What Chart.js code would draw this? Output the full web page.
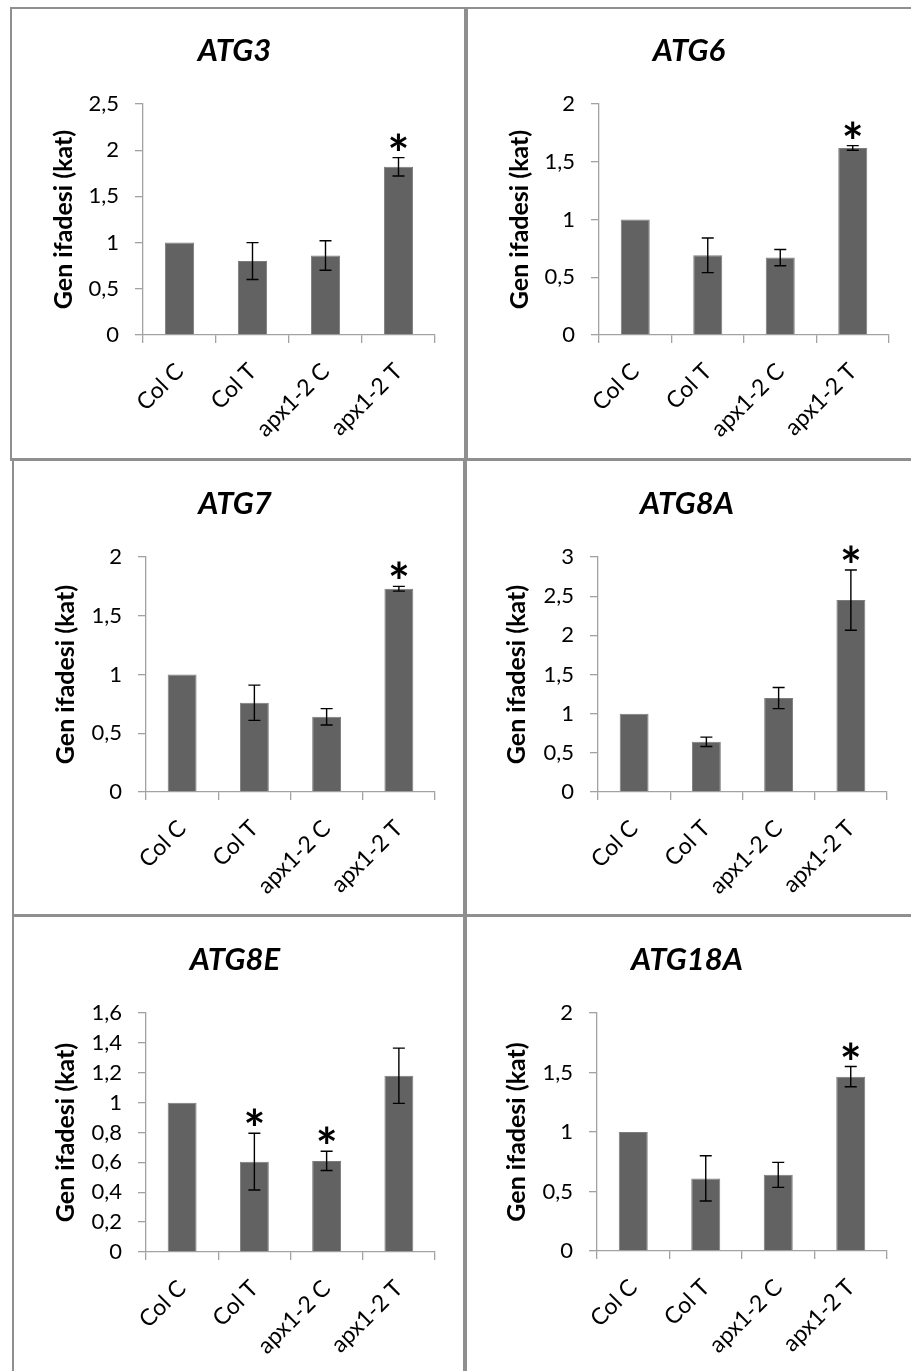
<!DOCTYPE html>
<html>
<head>
<meta charset="utf-8">
<script src="https://cdn.jsdelivr.net/npm/chart.js@4.4.1/dist/chart.umd.min.js"></script>
<style>
  html, body { margin: 0; padding: 0; background: #fff; }
  body { position: relative; width: 911px; height: 1371px; overflow: hidden; }
  .panel { position: absolute; box-sizing: border-box; border: 2px solid #8f8f8f; }
  .plot { position: absolute; }
</style>
</head>
<body>
<script>
// Groups on the x axis (same for every gene)
const categories = ['Col C', 'Col T', 'apx1-2 C', 'apx1-2 T'];
const yAxisTitle = 'Gen ifadesi (kat)';

// Relative expression (fold), standard errors and significance marks per gene
const atg3Values = [1.00, 0.80, 0.86, 1.82];
const atg3Errors = [0, 0.20, 0.16, 0.10];
const atg3Stars = [false, false, false, true];
const atg3Ticks = ['0', '0,5', '1', '1,5', '2', '2,5'];

const atg6Values = [1.00, 0.69, 0.67, 1.62];
const atg6Errors = [0, 0.15, 0.07, 0.02];
const atg6Stars = [false, false, false, true];
const atg6Ticks = ['0', '0,5', '1', '1,5', '2'];

const atg7Values = [1.00, 0.76, 0.64, 1.73];
const atg7Errors = [0, 0.15, 0.07, 0.02];
const atg7Stars = [false, false, false, true];
const atg7Ticks = ['0', '0,5', '1', '1,5', '2'];

const atg8aValues = [1.00, 0.64, 1.20, 2.45];
const atg8aErrors = [0, 0.06, 0.135, 0.385];
const atg8aStars = [false, false, false, true];
const atg8aTicks = ['0', '0,5', '1', '1,5', '2', '2,5', '3'];

const atg8eValues = [1.00, 0.605, 0.61, 1.18];
const atg8eErrors = [0, 0.19, 0.064, 0.185];
const atg8eStars = [false, true, true, false];
const atg8eTicks = ['0', '0,2', '0,4', '0,6', '0,8', '1', '1,2', '1,4', '1,6'];

const atg18aValues = [1.00, 0.61, 0.64, 1.465];
const atg18aErrors = [0, 0.19, 0.105, 0.085];
const atg18aStars = [false, false, false, true];
const atg18aTicks = ['0', '0,5', '1', '1,5', '2'];

const genes = [
  { name: 'ATG3',   values: atg3Values,   errors: atg3Errors,   stars: atg3Stars,   ticks: atg3Ticks },
  { name: 'ATG6',   values: atg6Values,   errors: atg6Errors,   stars: atg6Stars,   ticks: atg6Ticks },
  { name: 'ATG7',   values: atg7Values,   errors: atg7Errors,   stars: atg7Stars,   ticks: atg7Ticks },
  { name: 'ATG8A',  values: atg8aValues,  errors: atg8aErrors,  stars: atg8aStars,  ticks: atg8aTicks },
  { name: 'ATG8E',  values: atg8eValues,  errors: atg8eErrors,  stars: atg8eStars,  ticks: atg8eTicks },
  { name: 'ATG18A', values: atg18aValues, errors: atg18aErrors, stars: atg18aStars, ticks: atg18aTicks },
];

// Page layout: framed box, canvas rectangle and plot rectangle for each panel [left, top, right, bottom]
const layout = [
  { box: [11, 8, 465, 460],    canvas: [34, 10, 441, 457],    area: [143, 104, 435, 335],   yTitleX: 63.5 },
  { box: [467, 8, 920, 460],   canvas: [489, 10, 895, 457],   area: [599, 104, 889, 335],   yTitleX: 519.5 },
  { box: [13, 459, 466, 916],  canvas: [35, 461, 441, 913],   area: [146, 557, 435, 792],   yTitleX: 66 },
  { box: [464, 459, 920, 916], canvas: [487, 461, 893, 913],  area: [598, 557, 887, 792],   yTitleX: 517 },
  { box: [13, 915, 466, 1380], canvas: [35, 917, 441, 1371],  area: [146, 1013, 435, 1252], yTitleX: 66 },
  { box: [464, 915, 920, 1380],canvas: [487, 917, 893, 1371], area: [597, 1013, 887, 1251], yTitleX: 517 },
];

const FONT = 'Lato';
const AXIS_COLOR = '#a2a2a2';
const BAR_COLOR = '#626262';
const TICK_SIZE = 22;
const XLABEL_SIZE = 23;
const YTITLE_SIZE = 25;
const TITLE_SIZE = 31;
const STAR_WIDTH = 17;

// Draws the standard-error whiskers and the significance asterisks on top of the bars
const errorBarPlugin = {
  id: 'errorBars',
  afterDatasetsDraw(chart) {
    const ctx = chart.ctx;
    const yScale = chart.scales.y;
    const ds = chart.data.datasets[0];
    const meta = chart.getDatasetMeta(0);
    ctx.save();
    meta.data.forEach((bar, i) => {
      const v = ds.data[i];
      const e = ds.errors[i];
      let topPx = yScale.getPixelForValue(v);
      if (e > 0) {
        const hi = yScale.getPixelForValue(v + e);
        const lo = yScale.getPixelForValue(v - e);
        const cap = 6;
        ctx.strokeStyle = '#000';
        ctx.lineWidth = 1.4;
        ctx.beginPath();
        ctx.moveTo(bar.x, hi); ctx.lineTo(bar.x, lo);
        ctx.moveTo(bar.x - cap, hi); ctx.lineTo(bar.x + cap, hi);
        ctx.moveTo(bar.x - cap, lo); ctx.lineTo(bar.x + cap, lo);
        ctx.stroke();
        topPx = hi;
      }
      if (ds.stars[i]) {
        // size the asterisk by its drawn width
        ctx.font = 'bold 100px ' + FONT;
        const m100 = ctx.measureText('*');
        const inkW = m100.actualBoundingBoxLeft + m100.actualBoundingBoxRight;
        const size = 100 * STAR_WIDTH / inkW;
        ctx.font = 'bold ' + size.toFixed(1) + 'px ' + FONT;
        ctx.fillStyle = '#000';
        ctx.textAlign = 'center';
        ctx.textBaseline = 'alphabetic';
        const m = ctx.measureText('*');
        const baseline = topPx - 7 - m.actualBoundingBoxDescent;
        ctx.fillText('*', bar.x, baseline);
      }
    });
    ctx.restore();
  }
};

function buildPanel(gene, lay) {
  const [bx0, by0, bx1, by1] = lay.box;
  const frame = document.createElement('div');
  frame.className = 'panel';
  Object.assign(frame.style, { left: bx0 - 1 + 'px', top: by0 - 1 + 'px', width: (bx1 - bx0 + 2) + 'px', height: (by1 - by0 + 2) + 'px' });
  document.body.appendChild(frame);

  const [cx0, cy0, cx1, cy1] = lay.canvas;
  const [ax0, ay0, ax1, ay1] = lay.area;
  const W = cx1 - cx0, H = cy1 - cy0;
  const wrap = document.createElement('div');
  wrap.className = 'plot';
  Object.assign(wrap.style, { left: cx0 + 'px', top: cy0 + 'px', width: W + 'px', height: H + 'px' });
  const canvas = document.createElement('canvas');
  canvas.width = W; canvas.height = H;
  canvas.style.width = W + 'px'; canvas.style.height = H + 'px';
  wrap.appendChild(canvas);
  document.body.appendChild(wrap);

  const tickNums = gene.ticks.map(t => parseFloat(t.replace(',', '.')));
  const yMin = tickNums[0], yMax = tickNums[tickNums.length - 1];
  const step = tickNums[1] - tickNums[0];

  const titleLH = TITLE_SIZE * 1.2;
  const areaTop = ay0 - cy0;
  const titlePadTop = areaTop - 53 - titleLH / 2;
  const titlePadBottom = areaTop - titleLH - titlePadTop;

  const yTitlePad = (lay.yTitleX - cx0) - YTITLE_SIZE * 1.2 / 2;

  new Chart(canvas, {
    type: 'bar',
    data: {
      labels: categories,
      datasets: [{
        data: gene.values,
        errors: gene.errors,
        stars: gene.stars,
        backgroundColor: BAR_COLOR,
        borderColor: '#7c7c7c',
        borderWidth: 1,
        barPercentage: 0.4,
        categoryPercentage: 1.0,
      }]
    },
    options: {
      responsive: false,
      animation: false,
      devicePixelRatio: 1,
      layout: { padding: { left: 0, top: 0, right: cx1 - ax1, bottom: 0 } },
      plugins: {
        legend: { display: false },
        tooltip: { enabled: false },
        title: {
          display: true,
          text: gene.name,
          color: '#000',
          font: { family: FONT, size: TITLE_SIZE, weight: 'bold', style: 'italic', lineHeight: 1.2 },
          padding: { top: titlePadTop, bottom: titlePadBottom },
        },
      },
      scales: {
        x: {
          offset: true,
          grid: { offset: true, drawOnChartArea: false, drawTicks: true, tickLength: 8, color: AXIS_COLOR, lineWidth: 1.3 },
          border: { display: true, color: AXIS_COLOR, width: 1.3 },
          ticks: {
            autoSkip: false, minRotation: 45, maxRotation: 45, padding: 15,
            color: '#000', font: { family: FONT, size: XLABEL_SIZE },
          },
          afterFit: s => { s.height = cy1 - ay1; },
        },
        y: {
          min: yMin, max: yMax,
          grid: { drawOnChartArea: false, drawTicks: true, tickLength: 8, color: AXIS_COLOR, lineWidth: 1.3 },
          border: { display: true, color: AXIS_COLOR, width: 1.3 },
          ticks: {
            stepSize: step, padding: 16, color: '#000',
            font: { family: FONT, size: TICK_SIZE },
            callback: (v, i) => gene.ticks[i],
          },
          title: {
            display: true, text: yAxisTitle, color: '#000',
            font: { family: FONT, size: YTITLE_SIZE, weight: 'bold' },
            padding: { top: yTitlePad, bottom: 0 },
          },
          afterFit: s => { s.width = ax0 - cx0; },
        },
      },
    },
    plugins: [errorBarPlugin],
  });
}

Promise.all([
  document.fonts.load('22px Lato'),
  document.fonts.load('bold 25px Lato'),
  document.fonts.load('bold italic 31px Lato'),
]).catch(() => {}).then(() => {
  genes.forEach((g, i) => buildPanel(g, layout[i]));
});
</script>
</body>
</html>
